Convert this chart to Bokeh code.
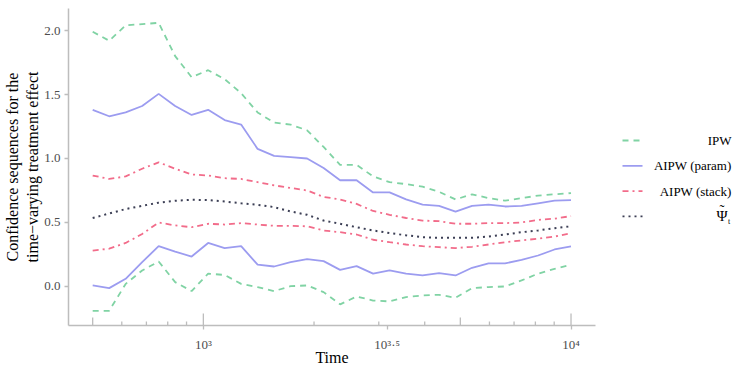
import numpy as np
from bokeh.plotting import figure
from bokeh.layouts import row
from bokeh.models import FixedTicker, CustomJSTickFormatter, Range1d
from bokeh.core.properties import value
from bokeh.embed import file_html
from bokeh.resources import INLINE

# ---------------- data ----------------
n_points = 30
time = np.logspace(np.log10(500), 4, n_points)

ipw_upper = [1.99, 1.92, 2.04, 2.05, 2.06, 1.80, 1.635, 1.69, 1.62, 1.51,
             1.36, 1.28, 1.265, 1.22, 1.09, 0.95, 0.95, 0.86, 0.815, 0.80,
             0.78, 0.74, 0.68, 0.72, 0.69, 0.67, 0.69, 0.71, 0.72, 0.73]
ipw_lower = [-0.19, -0.19, 0.02, 0.125, 0.195, 0.034, -0.036, 0.10, 0.09, 0.02,
             -0.005, -0.036, 0.002, 0.008, -0.044, -0.14, -0.078, -0.11, -0.117, -0.083,
             -0.07, -0.065, -0.088, -0.013, -0.005, 0.0, 0.047, 0.10, 0.138, 0.17]
param_upper = [1.38, 1.33, 1.36, 1.41, 1.505, 1.41, 1.34, 1.38, 1.30, 1.265,
               1.075, 1.02, 1.01, 1.00, 0.925, 0.83, 0.83, 0.735, 0.735, 0.68,
               0.64, 0.63, 0.585, 0.63, 0.64, 0.625, 0.63, 0.65, 0.67, 0.675]
param_lower = [0.008, -0.013, 0.06, 0.19, 0.315, 0.273, 0.234, 0.34, 0.30, 0.315,
               0.17, 0.156, 0.19, 0.213, 0.198, 0.13, 0.159, 0.10, 0.125, 0.10,
               0.086, 0.104, 0.086, 0.146, 0.18, 0.18, 0.208, 0.242, 0.289, 0.3125]
stack_upper = [0.867, 0.84, 0.86, 0.92, 0.97, 0.92, 0.875, 0.867, 0.846, 0.84,
               0.815, 0.79, 0.77, 0.75, 0.70, 0.68, 0.645, 0.59, 0.56, 0.535,
               0.515, 0.51, 0.49, 0.49, 0.495, 0.495, 0.50, 0.52, 0.53, 0.55]
stack_lower = [0.28, 0.295, 0.34, 0.41, 0.50, 0.477, 0.463, 0.49, 0.484, 0.495,
               0.484, 0.474, 0.474, 0.47, 0.4375, 0.424, 0.406, 0.365, 0.346, 0.328,
               0.315, 0.307, 0.30, 0.31, 0.328, 0.346, 0.36, 0.373, 0.39, 0.416]
psi_true = [0.535, 0.57, 0.605, 0.63, 0.655, 0.67, 0.677, 0.675, 0.664, 0.65,
            0.638, 0.62, 0.586, 0.56, 0.515, 0.49, 0.463, 0.4375, 0.417, 0.40,
            0.385, 0.38, 0.38, 0.38, 0.39, 0.406, 0.424, 0.4375, 0.455, 0.47]

series_names = ["IPW", "AIPW (param)", "AIPW (stack)", "\u03A8"]
psi_accent = "\u02DC"
psi_subscript = "t"
series_colors = ["#80d3a4", "#9c9cf0", "#f26c8a", "#3c3f55"]
series_dashes = ["6 5", "solid", "6 4 2 4", "2 4"]

y_ticks = [0.0, 0.5, 1.0, 1.5, 2.0]
x_ticks = [1e3, 10 ** 3.5, 1e4]
log_mid = [500, 5000]
log_long = [1000, 10000]
log_short = [600, 700, 800, 900, 2000, 3000, 4000, 6000, 7000, 8000, 9000]
x_title = "Time"
y_title = "Confidence sequences for the\ntime\u2212varying treatment effect"

# ---------------- style ----------------
SERIF = "Liberation Serif"
AXIS_COL = "#bdbdbd"
y_lo, y_hi = -0.305, 2.172
x_lo, x_hi = 10 ** 2.6332, 10 ** 4.0666
LW = 1.8
FRAME_LEFT, FRAME_RIGHT = 67, 595
FRAME_TOP, FRAME_BOTTOM = 8, 325
MAIN_W, LEG_W, H = 600, 140, 370

p = figure(width=MAIN_W, height=H, x_axis_type="log",
           x_range=Range1d(x_lo, x_hi), y_range=Range1d(y_lo, y_hi),
           output_backend="svg", toolbar_location=None,
           min_border_left=FRAME_LEFT, min_border_right=MAIN_W - FRAME_RIGHT,
           min_border_top=FRAME_TOP, min_border_bottom=H - FRAME_BOTTOM)
p.outline_line_color = None
p.xgrid.grid_line_color = None
p.ygrid.grid_line_color = None
p.background_fill_color = "white"

series = [(ipw_upper, ipw_lower), (param_upper, param_lower),
          (stack_upper, stack_lower)]
for (up, lo), col, dash in zip(series, series_colors[:3], series_dashes[:3]):
    p.line(time, up, line_color=col, line_dash=dash, line_width=LW)
    p.line(time, lo, line_color=col, line_dash=dash, line_width=LW)
p.line(time, psi_true, line_color=series_colors[3], line_dash=series_dashes[3],
       line_width=2.0)

# log-tick annotations drawn upwards from the x axis
ppu = (FRAME_BOTTOM - FRAME_TOP) / (y_hi - y_lo)
for ticks, L in ((log_long, 12), (log_mid, 8), (log_short, 4)):
    p.segment(x0=ticks, y0=[y_lo] * len(ticks), x1=ticks,
              y1=[y_lo + L / ppu] * len(ticks), line_color=AXIS_COL,
              line_width=1.3)

# axes
xa = p.xaxis[0]
xa.ticker = FixedTicker(ticks=x_ticks, minor_ticks=[])
xa.formatter = CustomJSTickFormatter(code="""
const e = Math.round(Math.log10(tick) * 10) / 10;
const sup = {'0':'\u2070','1':'\u00B9','2':'\u00B2','3':'\u00B3','4':'\u2074',
             '5':'\u2075','6':'\u2076','7':'\u2077','8':'\u2078','9':'\u2079','.':'\u00B7'};
return '10' + String(e).split('').map(c => sup[c]).join('');
""")
xa.axis_label = x_title
ya = p.yaxis[0]
ya.ticker = FixedTicker(ticks=y_ticks, minor_ticks=[])
ya.major_label_overrides = {t: f"{t:.1f}" for t in y_ticks}
ya.axis_label = y_title

for ax in (xa, ya):
    ax.axis_line_color = AXIS_COL
    ax.axis_line_width = 1.5
    ax.major_tick_line_color = AXIS_COL
    ax.major_tick_line_width = 1.3
    ax.major_tick_in = 0
    ax.major_tick_out = 4
    ax.minor_tick_line_color = None
    ax.major_label_text_font = SERIF
    ax.major_label_text_font_size = "13px"
    ax.major_label_text_color = "#4d4d4d"
    ax.axis_label_text_font = SERIF
    ax.axis_label_text_font_size = "16px"
    ax.axis_label_text_font_style = "normal"
    ax.axis_label_text_color = "black"
    ax.axis_label_standoff = 0
    ax.major_label_standoff = 4
xa.major_label_standoff = 7
xa.axis_label_standoff = -6
xa.axis_label_text_line_height = 1.0
xa.major_label_text_line_height = 1.0

# ---------------- legend (right aligned labels) ----------------
# legend coordinates are page pixels; its frame is aligned with the main frame
leg = figure(width=LEG_W, height=H, x_range=Range1d(MAIN_W, MAIN_W + LEG_W),
             y_range=Range1d(FRAME_BOTTOM, FRAME_TOP), output_backend="svg",
             toolbar_location=None, min_border=0,
             x_axis_location=None, y_axis_location=None)
leg.grid.visible = False
leg.outline_line_color = None

leg_y = [140 + 25.3 * i for i in range(len(series_names))]
for i, (name, col, dash) in enumerate(zip(series_names, series_colors, series_dashes)):
    leg.line([622, 642], [leg_y[i], leg_y[i]], line_color=col, line_dash=dash,
             line_width=LW)
leg.text(x=[731, 731, 731, 727], y=leg_y, text=series_names,
         text_font=value(SERIF), text_font_size=["13px", "13px", "13px", "15px"],
         text_color="black", text_align="right", text_baseline="middle")
leg.text(x=[721.5], y=[leg_y[3] - 6], text=[psi_accent],
         text_font=value(SERIF), text_font_size="15px", text_color="black",
         text_align="center", text_baseline="middle")
leg.text(x=[727.5], y=[leg_y[3] + 5], text=[psi_subscript],
         text_font=value(SERIF), text_font_size="8px", text_color="black",
         text_align="left", text_baseline="middle")

layout = row(p, leg, spacing=0)
open("out.html", "w").write(file_html(layout, INLINE))
